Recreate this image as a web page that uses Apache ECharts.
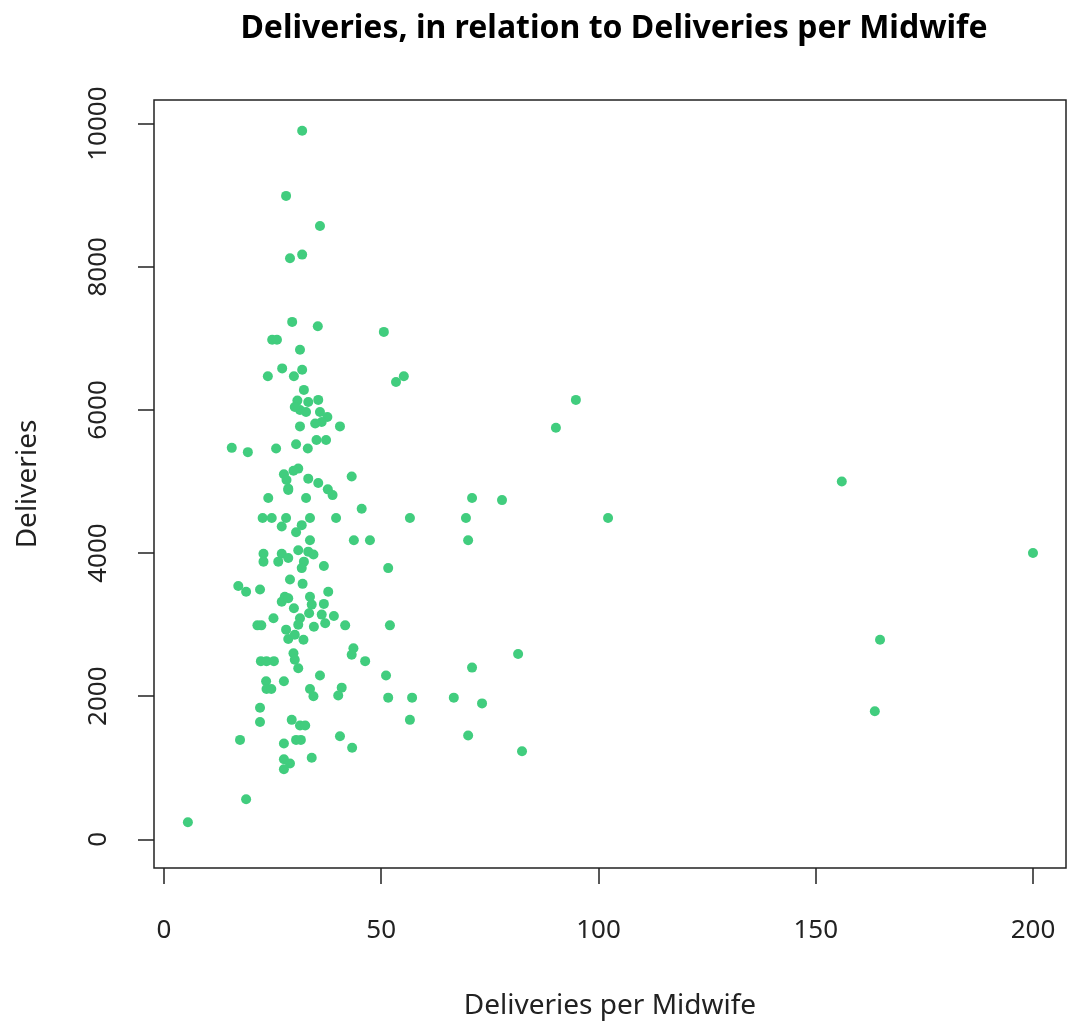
<!DOCTYPE html>
<html>
<head>
<meta charset="utf-8">
<script src="https://cdn.jsdelivr.net/npm/echarts@6/dist/echarts.min.js"></script>
<style>html,body{margin:0;padding:0;background:#fff}#c{width:1067px;height:1025px}</style>
</head>
<body>
<div id="c"></div>
<script>
const xTicks = [0, 50, 100, 150, 200];
const yTicks = [0, 2000, 4000, 6000, 8000, 10000];
const perMidwife = [
 31.8,28.1,35.9,29.0,31.8,29.5,35.4,50.6,24.9,26.0,31.3,27.2,23.9,29.9,31.8,53.4,55.2,32.2,30.7,33.2,
 31.3,32.7,30.1,35.5,35.9,37.6,36.3,34.8,31.3,40.5,35.1,37.3,30.4,33.1,25.8,19.3,15.6,30.9,29.8,27.6,
 28.2,33.2,35.5,43.2,28.6,37.7,38.8,28.6,24.0,32.7,45.5,22.7,24.8,28.1,33.6,39.6,27.1,31.7,30.4,33.6,
 43.7,47.4,22.9,22.9,27.1,28.6,26.3,30.9,33.2,34.4,32.2,31.7,36.8,29.0,31.9,17.1,18.9,22.1,37.8,27.8,
 33.6,27.1,28.6,34.0,36.8,29.9,25.2,21.5,22.4,31.3,30.9,33.4,36.3,39.1,37.1,34.5,41.7,28.1,28.6,30.1,
 32.1,29.8,30.1,30.9,43.6,43.2,46.3,22.3,23.6,25.3,35.9,23.5,27.6,23.6,24.7,33.6,40.9,40.1,34.4,22.1,
 22.1,29.4,31.3,32.5,17.5,27.6,30.4,31.5,40.5,43.3,34.0,27.6,29.0,27.6,18.9,5.5,
 94.8,90.2,70.9,77.8,56.6,69.5,102.2,70.0,51.6,52.0,81.5,70.9,51.1,51.6,57.1,66.7,73.2,56.6,70.0,82.4,
 156.0,200.0,164.8,163.6
];
const deliveries = [
 9900,8990,8570,8120,8170,7230,7170,7090,6980,6980,6840,6580,6470,6470,6560,6390,6470,6280,6130,6110,
 6000,5970,6040,6140,5970,5900,5830,5810,5770,5770,5580,5580,5520,5460,5460,5410,5470,5180,5150,5100,
 5020,5040,4980,5070,4900,4890,4810,4880,4770,4770,4620,4490,4490,4490,4490,4490,4370,4390,4290,4180,
 4180,4180,3990,3880,3990,3930,3880,4040,4020,3980,3880,3790,3820,3630,3570,3540,3460,3490,3460,3390,
 3390,3320,3370,3280,3290,3230,3090,2990,2990,3090,3000,3160,3140,3120,3020,2970,2990,2930,2800,2860,
 2790,2600,2510,2390,2670,2580,2490,2490,2490,2490,2290,2210,2210,2100,2100,2100,2120,2010,2000,1840,
 1640,1670,1590,1590,1390,1340,1390,1390,1440,1280,1140,1120,1060,980,560,240,
 6140,5750,4770,4740,4490,4490,4490,4180,3790,2990,2590,2400,2290,1980,1980,1980,1900,1670,1450,1230,
 5000,4000,2790,1790
];
const points = perMidwife.map((x, i) => [x, deliveries[i]]);
const FONT = 'Noto Sans';
const chart = echarts.init(document.getElementById('c'), null, {renderer: 'canvas'});
chart.setOption({
  animation: false,
  backgroundColor: '#ffffff',
  title: {
    text: 'Deliveries, in relation to Deliveries per Midwife',
    left: 609, top: 8, textAlign: 'center',
    textStyle: {fontFamily: FONT, fontWeight: 'bold', fontSize: 32, color: '#000'}
  },
  grid: {left: 154, right: 1, top: 100, bottom: 156, show: true, borderColor: '#222', borderWidth: 1.5, backgroundColor: 'transparent'},
  xAxis: {
    type: 'value', min: -2.3, max: 207.6,
    name: 'Deliveries per Midwife', nameLocation: 'middle', nameGap: 124,
    nameTextStyle: {fontFamily: FONT, fontSize: 28, color: '#222'},
    axisLine: {show: false, onZero: false},
    axisTick: {show: true, length: 16, inside: false, customValues: xTicks, lineStyle: {color: '#222', width: 1.5}},
    axisLabel: {customValues: xTicks, margin: 50, fontFamily: FONT, fontSize: 26, color: '#222',
      formatter: v => String(v)},
    splitLine: {show: false}
  },
  yAxis: {
    type: 'value', min: -400, max: 10330,
    name: 'Deliveries', nameLocation: 'middle', nameGap: 112, nameRotate: 90,
    nameTextStyle: {fontFamily: FONT, fontSize: 28, color: '#222'},
    axisLine: {show: false, onZero: false},
    axisTick: {show: true, length: 16, inside: false, customValues: yTicks, lineStyle: {color: '#222', width: 1.5}},
    axisLabel: {customValues: yTicks, margin: 42, rotate: 90, fontFamily: FONT, fontSize: 26, color: '#222',
      formatter: v => String(v)},
    splitLine: {show: false}
  },
  series: [{
    type: 'scatter', data: points, symbol: 'circle', symbolSize: 10,
    itemStyle: {color: '#41cd7e', opacity: 1}
  }]
});
</script>
</body>
</html>
